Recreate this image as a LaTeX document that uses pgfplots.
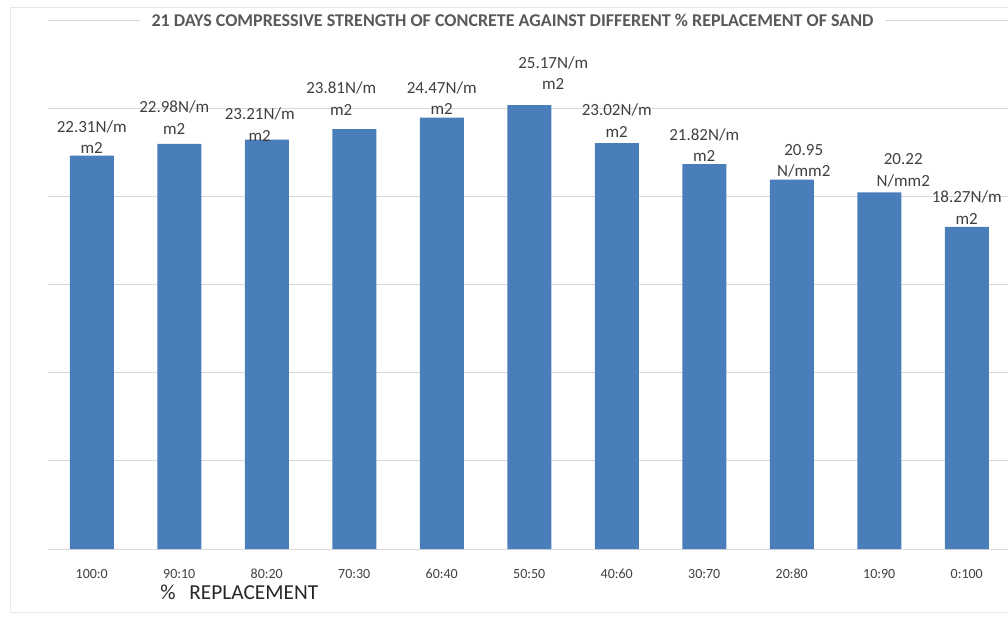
\documentclass[border=0pt]{standalone}
\usepackage{pgfplots}
\pgfplotsset{compat=1.18}
\usepackage{fontspec}
\setmainfont{Carlito}
\definecolor{barblue}{HTML}{4A7EBB}
\definecolor{gridgray}{HTML}{D9D9D9}
\definecolor{lblgray}{HTML}{404040}
\definecolor{tickgray}{HTML}{404040}
\definecolor{titlegray}{HTML}{595959}
\begin{document}
\begin{tikzpicture}
\path[use as bounding box] (-36pt,-52.5pt) rectangle (720pt,411.75pt);
\clip (-36pt,-52.5pt) rectangle (720pt,411.75pt);
\draw[gray!18, line width=0.6pt] (-28.5pt,-47.25pt) rectangle (760pt,406.5pt);
\begin{axis}[
  at={(0,0)}, anchor=south west,
  scale only axis,
  width=721.875pt, height=396.75pt,
  xmin=-0.5, xmax=10.5, ymin=0, ymax=30,
  ytick={0,5,...,30}, yticklabels={},
  ymajorgrids, major grid style={gridgray, line width=0.75pt},
  axis line style={draw=none},
  major tick length=0pt,
  xtick={0,...,10},
  xticklabels={100:0,90:10,80:20,70:30,60:40,50:50,40:60,30:70,20:80,10:90,0:100},
  xticklabel style={font=\fontsize{10.5pt}{12pt}\selectfont, text=tickgray, inner sep=0pt, anchor=north},
  xticklabel shift=15pt,
  clip=false,
]
\addplot[ybar, bar width=33pt, fill=barblue, draw=none] coordinates {
 (0,22.31) (1,22.98) (2,23.21) (3,23.81) (4,24.47) (5,25.17)
 (6,23.02) (7,21.82) (8,20.95) (9,20.22) (10,18.27)};
\tikzset{lbl/.style={font=\fontsize{12.75pt}{16.1pt}\selectfont, text=lblgray, align=center, inner sep=0pt, anchor=center}}
\node[lbl, xshift=0pt,     yshift=13.9pt]  at (axis cs:0,22.31) {22.31N/m\\m2};
\node[lbl, xshift=-3.75pt, yshift=19.5pt]  at (axis cs:1,22.98) {22.98N/m\\m2};
\node[lbl, xshift=-5.25pt, yshift=11.25pt] at (axis cs:2,23.21) {23.21N/m\\m2};
\node[lbl, xshift=-9.75pt, yshift=22.9pt]  at (axis cs:3,23.81) {23.81N/m\\m2};
\node[lbl, xshift=0pt,     yshift=14.6pt]  at (axis cs:4,24.47) {24.47N/m\\m2};
\node[lbl, xshift=18pt,    yshift=24pt]    at (axis cs:5,25.17) {25.17N/m\\m2};
\node[lbl, xshift=0pt,     yshift=16.9pt]  at (axis cs:6,23.02) {23.02N/m\\m2};
\node[lbl, xshift=0pt,     yshift=14.25pt] at (axis cs:7,21.82) {21.82N/m\\m2};
\node[lbl, xshift=9pt,     yshift=13.9pt]  at (axis cs:8,20.95) {20.95\\N/mm2};
\node[lbl, xshift=18pt,    yshift=16.5pt]  at (axis cs:9,20.22) {20.22\\N/mm2};
\node[lbl, xshift=0pt,     yshift=14.6pt]  at (axis cs:10,18.27) {18.27N/m\\m2};
\node[fill=white, inner xsep=9pt, inner ysep=2pt, anchor=base, yshift=-4.5pt,
  font=\fontsize{13.5pt}{15pt}\selectfont\bfseries, text=titlegray]
  at (rel axis cs:0.4826,1) {21 DAYS COMPRESSIVE STRENGTH OF CONCRETE AGAINST DIFFERENT \% REPLACEMENT OF SAND};
\node[anchor=base west, inner sep=0pt, yshift=-37.5pt, font=\fontsize{16pt}{18pt}\selectfont, text=black!85]
  at (rel axis cs:0.1164,0) {\%\hspace{0.65em}REPLACEMENT};
\end{axis}
\end{tikzpicture}
\end{document}
